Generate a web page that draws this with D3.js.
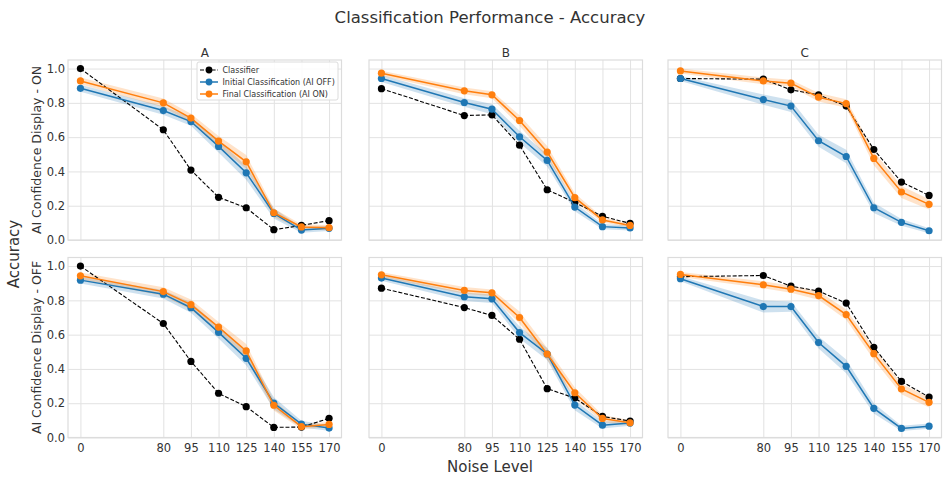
<!DOCTYPE html>
<html>
<head>
<meta charset="utf-8">
<script src="https://cdn.jsdelivr.net/npm/d3@7"></script>
<style>
    body { margin: 0; background: #fff; }
    text { font-family: "DejaVu Sans", sans-serif; fill: #333; }
    .grid line { stroke: #e2e2e2; stroke-width: 1; }
    .grid path, .axis path { display: none; }
    .axis line { display: none; }
</style>
</head>
<body>
<svg id="chart" width="943" height="477"></svg>
<script>
// noise levels are plotted at evenly spaced slots (0 sits three slots left of 80)
var noiseLevels = [0, 80, 95, 110, 125, 140, 155, 170];
var noiseSlots = [0, 3, 4, 5, 6, 7, 8, 9];
var yTicks = [0, 0.2, 0.4, 0.6, 0.8, 1.0];
var columnNames = ["A", "B", "C"];
var rowNames = ["AI Confidence Display - ON", "AI Confidence Display - OFF"];
var seriesNames = ["Classifier", "Initial Classification (AI OFF)", "Final Classification (AI ON)"];
var seriesColors = ["#000000", "#1f77b4", "#ff7f0e"];

// AI confidence display ON (one row per column A, B, C)
var classifierOn = [
    [1.0, 0.643, 0.408, 0.249, 0.188, 0.06, 0.085, 0.113],
    [0.883, 0.726, 0.730, 0.553, 0.293, 0.219, 0.138, 0.097],
    [0.942, 0.938, 0.876, 0.847, 0.781, 0.528, 0.338, 0.260]
];
var initialOn = [
    [0.885, 0.755, 0.691, 0.546, 0.392, 0.155, 0.058, 0.068],
    [0.942, 0.802, 0.763, 0.602, 0.464, 0.192, 0.078, 0.070],
    [0.942, 0.819, 0.781, 0.579, 0.487, 0.188, 0.103, 0.054]
];
var finalOn = [
    [0.928, 0.800, 0.711, 0.577, 0.456, 0.159, 0.076, 0.072],
    [0.973, 0.870, 0.847, 0.697, 0.513, 0.247, 0.117, 0.085],
    [0.986, 0.928, 0.915, 0.833, 0.796, 0.476, 0.280, 0.208]
];
var initialOnErr = [
    [0.02, 0.025, 0.025, 0.035, 0.04, 0.03, 0.015, 0.015],
    [0.02, 0.025, 0.03, 0.035, 0.035, 0.025, 0.015, 0.015],
    [0.015, 0.03, 0.035, 0.035, 0.04, 0.03, 0.02, 0.015]
];
var finalOnErr = [
    [0.02, 0.025, 0.025, 0.03, 0.04, 0.025, 0.015, 0.015],
    [0.015, 0.02, 0.02, 0.03, 0.035, 0.025, 0.015, 0.01],
    [0.015, 0.02, 0.02, 0.025, 0.025, 0.04, 0.035, 0.03]
];

// AI confidence display OFF
var classifierOff = [
    [1.0, 0.665, 0.444, 0.258, 0.180, 0.059, 0.061, 0.112],
    [0.871, 0.758, 0.712, 0.573, 0.285, 0.230, 0.123, 0.096],
    [0.938, 0.945, 0.883, 0.854, 0.784, 0.526, 0.327, 0.236]
];
var initialOff = [
    [0.918, 0.836, 0.757, 0.613, 0.462, 0.200, 0.078, 0.055],
    [0.930, 0.821, 0.809, 0.612, 0.487, 0.189, 0.072, 0.084],
    [0.926, 0.764, 0.764, 0.554, 0.415, 0.170, 0.053, 0.066]
];
var finalOff = [
    [0.943, 0.851, 0.775, 0.644, 0.505, 0.188, 0.063, 0.076],
    [0.949, 0.858, 0.844, 0.700, 0.487, 0.261, 0.111, 0.086],
    [0.951, 0.891, 0.865, 0.828, 0.717, 0.489, 0.283, 0.205]
];
var initialOffErr = [
    [0.02, 0.025, 0.03, 0.035, 0.04, 0.035, 0.02, 0.015],
    [0.015, 0.025, 0.025, 0.035, 0.035, 0.03, 0.02, 0.015],
    [0.015, 0.035, 0.03, 0.035, 0.04, 0.03, 0.015, 0.015]
];
var finalOffErr = [
    [0.02, 0.025, 0.03, 0.03, 0.04, 0.03, 0.015, 0.015],
    [0.015, 0.02, 0.02, 0.035, 0.035, 0.03, 0.02, 0.015],
    [0.015, 0.02, 0.02, 0.025, 0.03, 0.035, 0.03, 0.03]
];

var svg = d3.select("#chart");

var panelLeft = [68, 369, 668],
    panelTop = [60, 257.5],
    width = 273.5,
    height = 180;

var x = d3.scaleLinear().domain([-0.45, 9.45]).range([0, width]);
var y = d3.scaleLinear().domain([0, 1.05]).range([height, 0]);

function noiseLabel(d) {
    return noiseLevels[noiseSlots.indexOf(d)];
}

function drawPanel(r, c) {
    var g = svg.append("g")
        .attr("transform", "translate(" + panelLeft[c] + "," + panelTop[r] + ")");

    var classifier = r == 0 ? classifierOn[c] : classifierOff[c];
    var initial = r == 0 ? initialOn[c] : initialOff[c];
    var final = r == 0 ? finalOn[c] : finalOff[c];
    var initialErr = r == 0 ? initialOnErr[c] : initialOffErr[c];
    var finalErr = r == 0 ? finalOnErr[c] : finalOffErr[c];

    // grid
    g.append("g")
        .attr("class", "grid")
        .attr("transform", "translate(0," + height + ")")
        .call(d3.axisBottom(x).tickValues(noiseSlots).tickSize(-height).tickFormat(""));
    g.append("g")
        .attr("class", "grid")
        .call(d3.axisLeft(y).tickValues(yTicks).tickSize(-width).tickFormat(""));

    // frame
    g.append("rect")
        .attr("width", width)
        .attr("height", height)
        .attr("fill", "none")
        .attr("stroke", "#dcdcdc")
        .attr("stroke-width", 1.2);

    if (r == 1) {
        g.append("g")
            .attr("class", "axis")
            .attr("transform", "translate(0," + height + ")")
            .call(d3.axisBottom(x).tickValues(noiseSlots).tickSize(0).tickPadding(6).tickFormat(noiseLabel))
            .selectAll("text")
            .attr("font-size", "11.5px");
    }
    if (c == 0) {
        g.append("g")
            .attr("class", "axis")
            .call(d3.axisLeft(y).tickValues(yTicks).tickSize(0).tickPadding(3).tickFormat(d3.format(".1f")))
            .selectAll("text")
            .attr("font-size", "11.5px");

        g.append("text")
            .attr("transform", "translate(-27," + (height / 2) + ") rotate(-90)")
            .attr("text-anchor", "middle")
            .attr("font-size", "12.5px")
            .text(rowNames[r]);
    }
    if (r == 0) {
        g.append("text")
            .attr("x", width / 2)
            .attr("y", -3)
            .attr("text-anchor", "middle")
            .attr("font-size", "12px")
            .text(columnNames[c]);
    }

    var area = d3.area()
        .x(function (d, i) { return x(noiseSlots[i]); })
        .y0(function (d) { return y(d[0] - d[1]); })
        .y1(function (d) { return y(d[0] + d[1]); });

    var line = d3.line()
        .x(function (d, i) { return x(noiseSlots[i]); })
        .y(function (d) { return y(d); });

    var bands = [d3.zip(initial, initialErr), d3.zip(final, finalErr)];
    g.selectAll(".band")
        .data(bands)
        .enter().append("path")
        .attr("class", "band")
        .attr("d", area)
        .attr("fill", function (d, i) { return seriesColors[i + 1]; })
        .attr("fill-opacity", 0.22);

    var series = [classifier, initial, final];
    series.forEach(function (vals, s) {
        g.append("path")
            .attr("d", line(vals))
            .attr("fill", "none")
            .attr("stroke", seriesColors[s])
            .attr("stroke-width", s == 0 ? 1.1 : 1.5)
            .attr("stroke-dasharray", s == 0 ? "4,1.8" : null);
        g.selectAll(".dot" + s)
            .data(vals)
            .enter().append("circle")
            .attr("cx", function (d, i) { return x(noiseSlots[i]); })
            .attr("cy", function (d) { return y(d); })
            .attr("r", 3.6)
            .attr("fill", seriesColors[s]);
    });

    if (r == 0 && c == 0) {
        var legend = g.append("g").attr("transform", "translate(129,2)");
        legend.append("rect")
            .attr("width", 141)
            .attr("height", 38)
            .attr("rx", 2)
            .attr("fill", "#fff")
            .attr("fill-opacity", 0.85)
            .attr("stroke", "#dcdcdc");
        var item = legend.selectAll(".item")
            .data(seriesNames)
            .enter().append("g")
            .attr("class", "item")
            .attr("transform", function (d, i) {
                return "translate(0," + (8 + i * 12) + ")";
            });
        item.append("line")
            .attr("x1", 3).attr("x2", 21)
            .attr("stroke", function (d, i) { return seriesColors[i]; })
            .attr("stroke-width", function (d, i) { return i == 0 ? 1.1 : 1.5; })
            .attr("stroke-dasharray", function (d, i) { return i == 0 ? "4,1.8" : null; });
        item.append("circle")
            .attr("cx", 12)
            .attr("r", 3.4)
            .attr("fill", function (d, i) { return seriesColors[i]; });
        item.append("text")
            .attr("x", 25.5)
            .attr("dy", "0.35em")
            .attr("font-size", "8px")
            .text(function (d) { return d; });
    }
}

for (var r = 0; r < 2; r++) {
    for (var c = 0; c < 3; c++) {
        drawPanel(r, c);
    }
}

svg.append("text")
    .attr("x", 490)
    .attr("y", 23)
    .attr("text-anchor", "middle")
    .attr("font-size", "16.5px")
    .text("Classification Performance - Accuracy");

svg.append("text")
    .attr("x", 490)
    .attr("y", 472)
    .attr("text-anchor", "middle")
    .attr("font-size", "15px")
    .text("Noise Level");

svg.append("text")
    .attr("transform", "translate(19,254) rotate(-90)")
    .attr("text-anchor", "middle")
    .attr("font-size", "15px")
    .text("Accuracy");
</script>
</body>
</html>
